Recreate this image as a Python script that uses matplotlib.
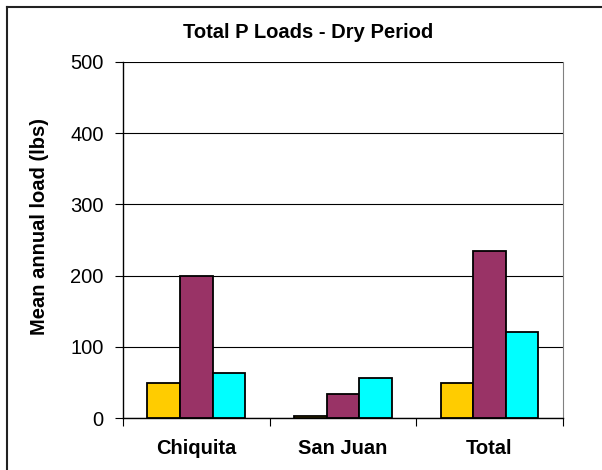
import matplotlib.pyplot as plt
import numpy as np
from matplotlib.lines import Line2D

categories = ['Chiquita', 'San Juan', 'Total']
series_a = [49, 3, 49]      # gold
series_b = [200, 34, 235]   # maroon
series_c = [64, 57, 121]    # cyan
colors = ['#FFCC00', '#993366', '#00FFFF']

plt.rcParams['font.family'] = ['Liberation Sans', 'DejaVu Sans']

W, H = 602, 470
fig = plt.figure(figsize=(W / 100, H / 100), dpi=100)
ax = fig.add_axes([123 / W, 1 - 418.3 / H, (562.7 - 123) / W, (418.3 - 61.7) / H])

x = np.arange(len(categories))
w = 1 / 4.5
for i, (vals, c) in enumerate(zip([series_a, series_b, series_c], colors)):
    ax.bar(x + (i - 1) * w, vals, width=w, color=c, edgecolor='black', linewidth=1.3, zorder=3)

ax.set_xlim(-0.5, 2.5)
ax.set_ylim(0, 500)
ax.set_yticks(range(0, 501, 100))
ax.yaxis.grid(True, color='black', linewidth=0.8, zorder=0)
ax.set_axisbelow(True)

# category ticks sit between the groups
ax.set_xticks([-0.5, 0.5, 1.5, 2.5])
ax.set_xticklabels([])
ax.set_xticks(x, minor=True)
ax.set_xticklabels(categories, minor=True, fontsize=14.5, fontweight='bold')
ax.tick_params(axis='x', which='minor', length=0, pad=15)
ax.tick_params(axis='x', which='major', length=5.5, direction='out', color='black')
ax.tick_params(axis='y', length=5.8, direction='out', labelsize=14.5, pad=8)

ax.spines['top'].set_visible(False)
ax.spines['right'].set_color('#808080')
ax.spines['left'].set_linewidth(1.0)
ax.spines['bottom'].set_linewidth(1.0)

fig.text(40 / W, 1 - 226.5 / H, 'Mean annual load (lbs)', rotation=90, ha='center', va='center',
         fontsize=14.5, fontweight='bold')
fig.text(308 / W, 1 - 32 / H, 'Total P Loads - Dry Period', ha='center', va='center',
         fontsize=14.5, fontweight='bold')

# frame of the chart area (only top and left edges are inside the picture)
fig.lines.append(Line2D([7 / W, 1], [1 - 6.5 / H, 1 - 6.5 / H], transform=fig.transFigure,
                        color='#222222', linewidth=1.5))
fig.lines.append(Line2D([7 / W, 7 / W], [0, 1 - 6.5 / H], transform=fig.transFigure,
                        color='#222222', linewidth=1.5))

fig.savefig('out.png', dpi=100)
